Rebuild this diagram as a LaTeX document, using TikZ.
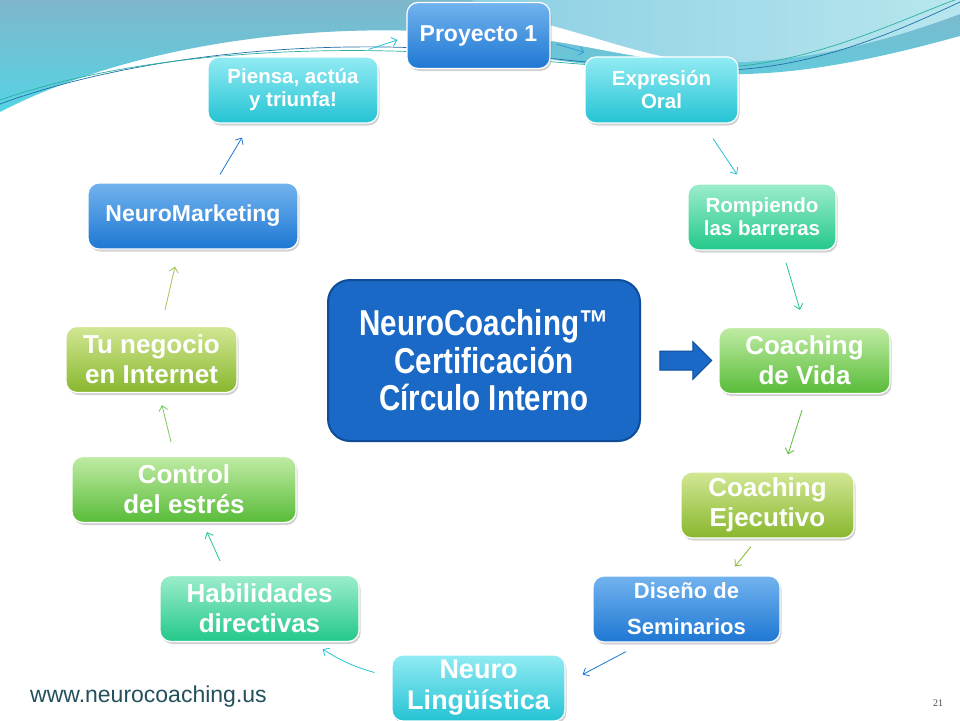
\documentclass[tikz,border=0pt]{standalone}
\usepackage{fontspec}
\setmainfont{Liberation Sans}
\newfontfamily\narrowfont[FakeStretch=0.82]{Liberation Sans}
\newfontfamily\numfont{Liberation Serif}
\usetikzlibrary{shapes.arrows,shadows,arrows.meta}

\definecolor{blueTop}{HTML}{72B3EE}
\definecolor{blueBot}{HTML}{1E77D3}
\definecolor{cyanTop}{HTML}{92EBF3}
\definecolor{cyanBot}{HTML}{24C3D4}
\definecolor{mintTop}{HTML}{9CEDCB}
\definecolor{mintBot}{HTML}{23C88B}
\definecolor{greenTop}{HTML}{C0EBA4}
\definecolor{greenBot}{HTML}{58BC38}
\definecolor{oliveTop}{HTML}{D2E794}
\definecolor{oliveBot}{HTML}{88B72E}
\definecolor{coreBlue}{HTML}{1A69C6}
\definecolor{coreEdge}{HTML}{0E4C98}
\definecolor{webText}{HTML}{24505E}
\definecolor{skyTop}{HTML}{7FB6CB}
\definecolor{skyBot}{HTML}{55D4E4}
\definecolor{paleLeft}{HTML}{8CCFE3}
\definecolor{paleRight}{HTML}{B8E6EE}
\definecolor{lineBlue}{HTML}{1F6FA8}
\definecolor{lineTeal}{HTML}{2AB0A0}
\definecolor{linkBlue}{HTML}{2AA0D8}

\begin{document}
\begin{tikzpicture}[x=1pt,y=-1pt]

\def\bh{66pt}
\tikzstyle{box} = [
	rectangle, rounded corners=11pt, draw=white, line width=1.2pt,
	minimum height=\bh, inner sep=0pt, align=center, text=white,
	font=\bfseries\fontsize{26}{30}\selectfont,
	drop shadow={shadow xshift=1.5pt, shadow yshift=-2.5pt, opacity=.35} ];
\tikzstyle{bluebox} = [box, top color=blueTop, bottom color=blueBot];
\tikzstyle{cyanbox} = [box, top color=cyanTop, bottom color=cyanBot];
\tikzstyle{mintbox} = [box, top color=mintTop, bottom color=mintBot];
\tikzstyle{greenbox} = [box, top color=greenTop, bottom color=greenBot];
\tikzstyle{olivebox} = [box, top color=oliveTop, bottom color=oliveBot];
\tikzstyle{small} = [font=\bfseries\fontsize{20.5}{23}\selectfont];
\tikzstyle{link} = [line width=.8pt, -{Straight Barb[length=5pt,width=9pt]}];

\useasboundingbox (0,0) rectangle (960,720);
\fill[white] (0,0) rectangle (960,720);

\shade[top color=skyTop, bottom color=skyBot]
	(0,0) -- (960,0) -- (960,36) .. controls (880,58) and (800,76) .. (720,74)
	.. controls (650,72) and (600,66) .. (555,60) .. controls (500,45) and (470,32) .. (420,31)
	.. controls (280,26) and (120,50) .. (0,112) -- cycle;
\shade[left color=paleLeft, right color=paleRight]
	(470,0) -- (960,0) -- (960,14) .. controls (880,44) and (790,66) .. (700,62)
	.. controls (650,58) and (600,38) .. (545,24) .. controls (510,16) and (490,6) .. (470,0) -- cycle;
\fill[white] (545,24) .. controls (600,38) and (650,58) .. (700,62)
	.. controls (650,62) and (600,48) .. (545,40) -- cycle;
\draw[lineBlue, line width=.7pt]
	(0,104) .. controls (120,60) and (280,42) .. (420,48) .. controls (560,56) and (640,72) .. (730,70)
	.. controls (820,66) and (900,30) .. (960,2);
\draw[lineTeal, line width=.7pt]
	(0,100) .. controls (120,58) and (280,46) .. (420,52) .. controls (560,60) and (640,74) .. (730,67)
	.. controls (820,60) and (900,20) .. (960,-2);

\node[bluebox, minimum width=143pt, font=\bfseries\fontsize{23}{26}\selectfont] (proy) at (478.5,35.5) {Proyecto 1};
\node[cyanbox, small, minimum width=170pt] (piensa) at (293,90) {Piensa, actúa\\y triunfa!};
\node[cyanbox, small, minimum width=153pt] (expr) at (661.5,90) {Expresión\\Oral};
\node[mintbox, small, minimum width=148pt] (romp) at (762,217) {Rompiendo\\las barreras};
\node[bluebox, minimum width=210pt, font=\bfseries\fontsize{23}{26}\selectfont] (nmkt) at (193,216) {NeuroMarketing};
\node[greenbox, minimum width=171pt] (vida) at (804.5,360.5) {Coaching\\de Vida};
\node[olivebox, minimum width=171pt] (negocio) at (151.5,359.5) {Tu negocio\\en Internet};
\node[greenbox, minimum width=224pt] (control) at (184,489.5) {Control\\del estrés};
\node[olivebox, minimum width=173pt] (ejec) at (767.5,505) {Coaching\\Ejecutivo};
\node[bluebox, minimum width=187pt, font=\bfseries\fontsize{22}{36}\selectfont] (diseno) at (686.5,609) {Diseño de\\Seminarios};
\node[mintbox, minimum width=199pt] (habil) at (259.5,608.5) {Habilidades\\directivas};
\node[cyanbox, minimum width=173pt, font=\bfseries\fontsize{27}{31}\selectfont] (neuro) at (478.5,688) {Neuro\\Lingüística};

\node[rectangle, rounded corners=22pt, fill=coreBlue, draw=coreEdge, line width=2pt,
	minimum width=312pt, minimum height=161pt, inner sep=0pt, align=center, text=white,
	font=\narrowfont\bfseries\fontsize{36}{37.5}\selectfont] (centro) at (484,360.5)
	{NeuroCoaching™\\Certificación\\Círculo Interno};
\node[single arrow, fill=coreBlue, draw=coreEdge, line width=1pt, inner sep=9pt,
	minimum height=52pt, single arrow head extend=9.5pt] (go) at (681,360.5) {};

\draw[link, blueBot] ([xshift=27pt,yshift=8pt]nmkt.north) -- ([xshift=-51pt,yshift=-14pt]piensa.south);
\draw[link, cyanBot] ([xshift=-10pt,yshift=7pt]piensa.north east) -- ([xshift=-9pt,yshift=-4.5pt]proy.west);
\draw[link, linkBlue] ([xshift=6pt,yshift=-8.5pt]proy.east) -- ([yshift=4pt]expr.north west);
\draw[link, cyanBot] ([xshift=51.5pt,yshift=-15pt]expr.south) -- ([xshift=-25pt,yshift=9pt]romp.north);
\draw[link, mintBot] ([xshift=24pt,yshift=-12pt]romp.south) -- ([xshift=-4.5pt,yshift=17pt]vida.north);
\draw[link, greenBot] ([xshift=-2.5pt,yshift=-16pt]vida.south) -- ([xshift=20.5pt,yshift=17pt]ejec.north);
\draw[link, oliveBot] ([xshift=-16.5pt,yshift=-8pt]ejec.south) -- ([xshift=48.5pt,yshift=9pt]diseno.north);
\draw[link, blueBot] ([xshift=-60.5pt,yshift=-9pt]diseno.south) -- ([xshift=17pt,yshift=13.5pt]neuro.east);
\draw[link, cyanBot] ([xshift=-17pt,yshift=15.5pt]neuro.west) to[bend left=8] ([xshift=-37pt,yshift=-7pt]habil.south east);
\draw[link, mintBot] ([xshift=-39.5pt,yshift=14pt]habil.north) -- ([xshift=23pt,yshift=-9pt]control.south);
\draw[link, greenBot!80] ([xshift=-13pt,yshift=14pt]control.north) -- ([xshift=10.5pt,yshift=-12pt]negocio.south);
\draw[link, oliveBot!80] ([xshift=13.5pt,yshift=16pt]negocio.north) -- ([xshift=-18pt,yshift=-17pt]nmkt.south);

\node[anchor=west, inner sep=0pt, text=webText, font=\fontsize{23}{26}\selectfont] (web) at (30,697) {www.neurocoaching.us};
\node[inner sep=0pt, text=black!70, font=\numfont\fontsize{10}{12}\selectfont] (pagenum) at (938,703) {21};

\end{tikzpicture}
\end{document}
